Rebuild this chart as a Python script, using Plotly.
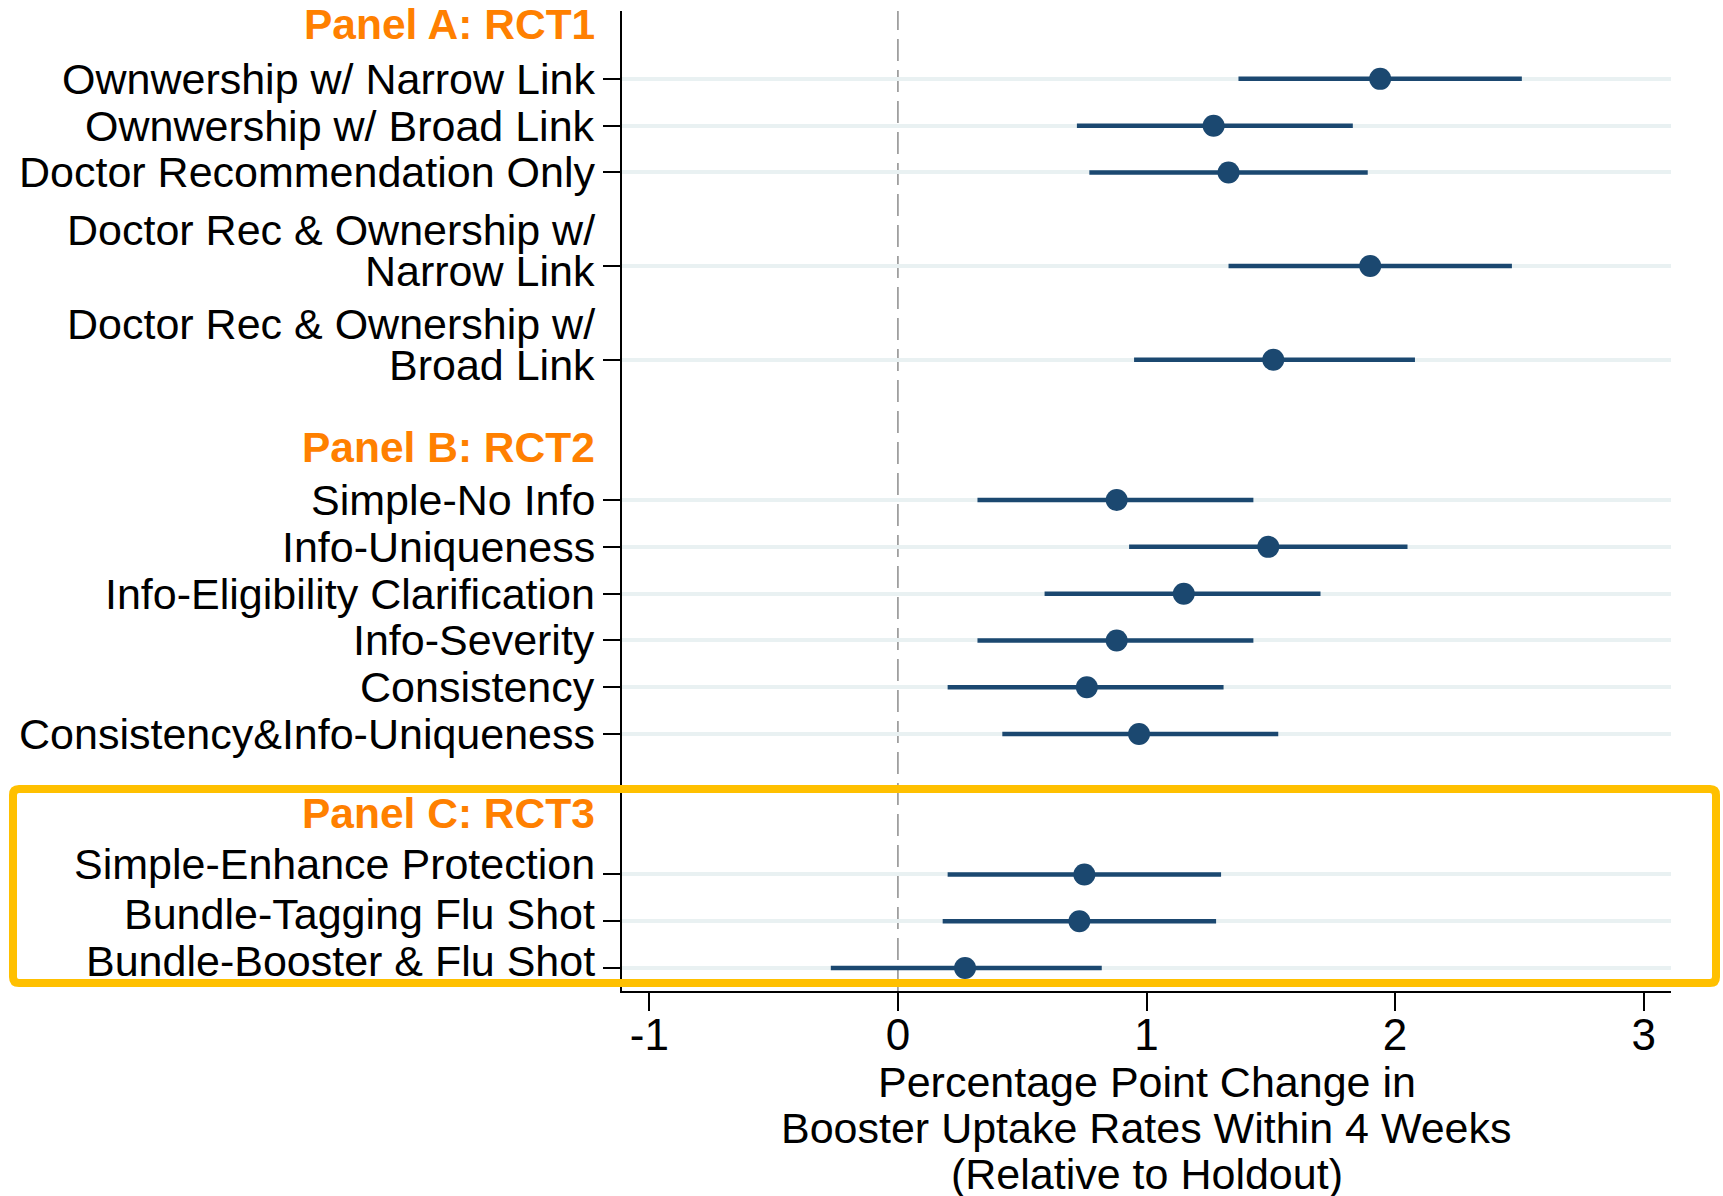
import plotly.graph_objects as go

# Treatment arms, top to bottom
labels = [
    "Ownwership w/ Narrow Link",
    "Ownwership w/ Broad Link",
    "Doctor Recommendation Only",
    "Doctor Rec & Ownership w/\nNarrow Link",
    "Doctor Rec & Ownership w/\nBroad Link",
    "Simple-No Info",
    "Info-Uniqueness",
    "Info-Eligibility Clarification",
    "Info-Severity",
    "Consistency",
    "Consistency&Info-Uniqueness",
    "Simple-Enhance Protection",
    "Bundle-Tagging Flu Shot",
    "Bundle-Booster & Flu Shot",
]
panel = ["A", "A", "A", "A", "A", "B", "B", "B", "B", "B", "B", "C", "C", "C"]

# Point estimates and 95% confidence bounds (percentage points)
estimate = [1.94, 1.27, 1.33, 1.90, 1.51, 0.88, 1.49, 1.15, 0.88, 0.76, 0.97, 0.75, 0.73, 0.27]
ci_low = [1.37, 0.72, 0.77, 1.33, 0.95, 0.32, 0.93, 0.59, 0.32, 0.20, 0.42, 0.20, 0.18, -0.27]
ci_high = [2.51, 1.83, 1.89, 2.47, 2.08, 1.43, 2.05, 1.70, 1.43, 1.31, 1.53, 1.30, 1.28, 0.82]

headings = ["Panel A: RCT1", "Panel B: RCT2", "Panel C: RCT3"]
x_ticks = [-1, 0, 1, 2, 3]
x_title = ["Percentage Point Change in",
           "Booster Uptake Rates Within 4 Weeks",
           "(Relative to Holdout)"]

# Vertical layout of the rows (one unit per row, gaps between panels)
row_y = [19, 18, 17, 15, 13, 10, 9, 8, 7, 6, 5, 2, 1, 0]
heading_y = [20.17, 11.13, 3.31]

NAVY = "#1b4870"
ORANGE = "#ff8000"
GOLD = "#ffc000"
FONT = "Liberation Sans, Arial, Helvetica, sans-serif"

W, H = 1723, 1196
L, R, T, B = 622, 52, 11, 205

fig = go.Figure()
fig.add_trace(go.Scatter(
    x=estimate, y=row_y, mode="markers",
    marker=dict(size=22, color=NAVY, line=dict(width=0)),
    error_x=dict(type="data", symmetric=False,
                 array=[h - e for h, e in zip(ci_high, estimate)],
                 arrayminus=[e - l for e, l in zip(estimate, ci_low)],
                 color=NAVY, thickness=4.5, width=0),
    showlegend=False, hoverinfo="skip",
))

annotations = []
# Row labels to the left of the axis
for i, (lab, p, y) in enumerate(zip(labels, panel, row_y)):
    lines = lab.split("\n")
    if len(lines) == 1:
        shifts = [(10 if y == 2 else 7) if p == "C" else 0]
    else:
        shifts = [36, -5]
    for text, s in zip(lines, shifts):
        annotations.append(dict(
            x=0, xref="paper", y=y, yref="y", text=text, showarrow=False,
            xanchor="right", yanchor="middle", xshift=-25, yshift=s,
            font=dict(family=FONT, size=43, color="black"),
        ))
# Panel headings
for text, y in zip(headings, heading_y):
    annotations.append(dict(
        x=0, xref="paper", y=y, yref="y", text="<b>%s</b>" % text, showarrow=False,
        xanchor="right", yanchor="middle", xshift=-25,
        font=dict(family=FONT, size=42.5, color=ORANGE),
    ))
# Axis title, line by line
for text, s in zip(x_title, [-91, -137, -183]):
    annotations.append(dict(
        x=0.5, xref="paper", y=0, yref="paper", text=text, showarrow=False,
        xanchor="center", yanchor="middle", yshift=s,
        font=dict(family=FONT, size=43, color="black"),
    ))

pw, ph = W - L - R, H - T - B


def px(xp):
    return (xp - L) / pw


def py(yp):
    return (H - B - yp) / ph


# Highlight frame around panel C
x0, x1, y0, y1, r = 13, 1716, 789, 983, 6
path = (
    f"M {px(x0 + r)},{py(y0)} L {px(x1 - r)},{py(y0)} "
    f"Q {px(x1)},{py(y0)} {px(x1)},{py(y0 + r)} L {px(x1)},{py(y1 - r)} "
    f"Q {px(x1)},{py(y1)} {px(x1 - r)},{py(y1)} L {px(x0 + r)},{py(y1)} "
    f"Q {px(x0)},{py(y1)} {px(x0)},{py(y1 - r)} L {px(x0)},{py(y0 + r)} "
    f"Q {px(x0)},{py(y0)} {px(x0 + r)},{py(y0)} Z"
)

shapes = [
    dict(type="line", xref="x", yref="paper", x0=0, x1=0, y0=0, y1=1,
         line=dict(color="#8c8c8c", width=1.5, dash="22px,9px"), layer="between"),
    dict(type="path", xref="paper", yref="paper", path=path,
         line=dict(color=GOLD, width=8), fillcolor="rgba(0,0,0,0)", layer="above"),
]

fig.update_layout(
    width=W, height=H,
    margin=dict(l=L, r=R, t=T, b=B, pad=0),
    paper_bgcolor="white", plot_bgcolor="white",
    font=dict(family=FONT, color="black"),
    annotations=annotations, shapes=shapes,
    xaxis=dict(
        range=[-1.11, 3.11], tickmode="array", tickvals=x_ticks,
        ticktext=[str(v) for v in x_ticks],
        showgrid=False, zeroline=False,
        showline=True, linecolor="black", linewidth=2,
        ticks="outside", ticklen=18, tickwidth=2, tickcolor="black",
        ticklabelstandoff=-14,
        tickfont=dict(family=FONT, size=44, color="black"),
    ),
    yaxis=dict(
        range=[-0.49, 20.45], tickmode="array", tickvals=row_y,
        showticklabels=False, zeroline=False,
        showgrid=True, gridcolor="#e9f1f2", gridwidth=4,
        showline=True, linecolor="black", linewidth=2,
        ticks="outside", ticklen=17, tickwidth=2, tickcolor="black",
    ),
)

fig.write_html("out.html")
